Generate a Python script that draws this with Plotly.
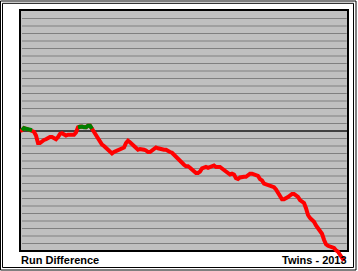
import plotly.graph_objects as go

# Cumulative run difference after each game (game 0 = season start)
games = list(range(0, 163))
run_diff = [
    0, 1, 4, 3, 2, 2, 1, -1, -6, -16,
    -16, -13, -12, -11, -9, -8, -8, -10, -11, -8,
    -4, -3, -4, -6, -5, -5, -6, -5, -2, 5,
    6, 6, 5, 5, 7, 7, 3, -1, -6, -11,
    -15, -18, -20, -23, -26, -28, -30, -28, -27, -26,
    -25, -24, -22, -16, -13, -15, -18, -21, -23, -25,
    -24, -24, -25, -26, -28, -28, -26, -23, -22, -23,
    -24, -25, -25, -25, -27, -28, -29, -32, -34, -37,
    -40, -43, -45, -47, -47, -49, -52, -54, -56, -56,
    -54, -50, -49, -48, -49, -48, -46, -46, -48, -48,
    -48, -50, -52, -55, -57, -58, -57, -58, -63, -64,
    -62, -61, -61, -61, -59, -57, -57, -58, -59, -60,
    -64, -66, -70, -71, -72, -73, -74, -75, -78, -82,
    -86, -91, -91, -90, -88, -86, -84, -84, -86, -88,
    -92, -94, -96, -103, -112, -116, -118, -121, -126, -129,
    -132, -137, -145, -151, -153, -154, -155, -156, -159, -161,
    -165, -169, -173,
]
grid_values = [v for v in range(-150, 160, 10) if v != 0]
left_label = "Run Difference"
right_label = "Twins - 2013"

W, H = 358, 271
def px(x):
    return x / W
def py(y):
    return 1 - y / H

positive = [v if v > 0 else None for v in run_diff]

fig = go.Figure()
fig.add_trace(go.Scatter(x=games, y=run_diff, mode="lines",
                         line=dict(color="#FF0000", width=4), hoverinfo="skip"))
fig.add_trace(go.Scatter(x=games, y=positive, mode="lines", connectgaps=False,
                         line=dict(color="#008000", width=4), hoverinfo="skip"))

shapes = []
# outer double frame
shapes.append(dict(type="rect", xref="paper", yref="paper", x0=px(0.5), x1=px(356), y0=py(1), y1=py(270),
                   line=dict(color="black", width=1), layer="below"))
shapes.append(dict(type="rect", xref="paper", yref="paper", x0=px(2.5), x1=px(353.5), y0=py(3.3), y1=py(267.5),
                   line=dict(color="black", width=1), layer="below"))
# plot background
shapes.append(dict(type="rect", xref="paper", yref="paper", x0=px(20), x1=px(348), y0=py(10), y1=py(251),
                   fillcolor="#C0C0C0", line=dict(color="black", width=2), layer="below"))
for g in grid_values:
    shapes.append(dict(type="line", xref="paper", yref="y", x0=px(22), x1=px(346.7), y0=g, y1=g,
                       line=dict(color="#808080", width=1), layer="below"))
shapes.append(dict(type="line", xref="paper", yref="y", x0=px(21), x1=px(347), y0=0, y1=0,
                   line=dict(color="#404040", width=2), layer="below"))

fig.update_layout(
    width=W, height=H,
    margin=dict(l=0, r=0, t=0, b=0),
    paper_bgcolor="white", plot_bgcolor="rgba(0,0,0,0)",
    showlegend=False,
    xaxis=dict(range=[0, 164], domain=[px(20), px(348)], visible=False, fixedrange=True),
    yaxis=dict(range=[(131 - 271) / 0.75, (131 - 10) / 0.75], domain=[0, py(10)],
               visible=False, fixedrange=True),
    shapes=shapes,
    annotations=[
        dict(text="<b>%s</b>" % left_label, xref="paper", yref="paper", x=px(19), y=py(260),
             xanchor="left", yanchor="middle", showarrow=False,
             font=dict(family="Liberation Sans", size=11, color="black")),
        dict(text="<b>%s</b>" % right_label, xref="paper", yref="paper", x=px(348.5), y=py(260),
             xanchor="right", yanchor="middle", showarrow=False,
             font=dict(family="Liberation Sans", size=11, color="black")),
    ],
)

fig.write_html("out.html", config={"displayModeBar": False})
